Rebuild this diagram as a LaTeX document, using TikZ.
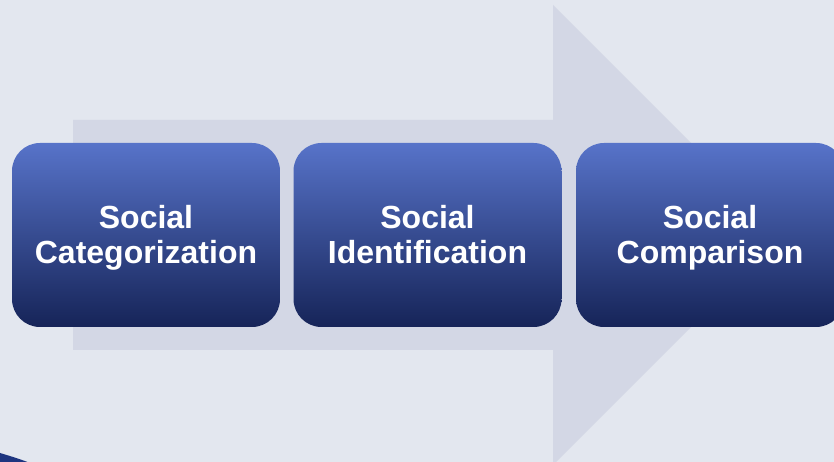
\documentclass[tikz,border=0pt]{standalone}
\usepackage{fontspec}
\setmainfont{Liberation Sans}
\definecolor{bgc}{HTML}{E3E7EF}
\definecolor{arrowc}{HTML}{D3D7E5}
\definecolor{boxtop}{HTML}{5773C9}
\definecolor{boxbot}{HTML}{162458}
\definecolor{cornerc}{HTML}{1E3580}
\newcommand{\lnstrut}{\rule[-6.5pt]{0pt}{35pt}}
\begin{document}
\begin{tikzpicture}[x=1pt,y=1pt,
  stagebox/.style={rectangle, rounded corners=28pt, minimum width=268pt, minimum height=184pt,
    top color=boxtop, bottom color=boxbot, draw=none, text=white, align=center,
    font=\fontsize{32}{35}\selectfont\bfseries, inner sep=0pt}]
\useasboundingbox (0,0) rectangle (834,462);
\fill[bgc] (0,0) rectangle (834,462);
\fill[arrowc] (73,342) -- (553,342) -- (553,457) -- (783,227) -- (553,-3) -- (553,112) -- (73,112) -- cycle;
\fill[cornerc] (0,9) .. controls (10,6) and (20,3) .. (30,-1) -- (0,-1) -- cycle;
\node[stagebox] (cat) at (146,227) {\lnstrut Social\\\lnstrut Categorization};
\node[stagebox] (ide) at (427.5,227) {\lnstrut Social\\\lnstrut Identification};
\node[stagebox] (com) at (710,227) {\lnstrut Social\\\lnstrut Comparison};
\end{tikzpicture}
\end{document}
